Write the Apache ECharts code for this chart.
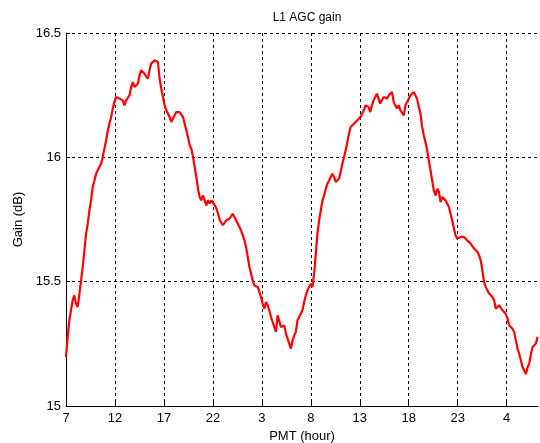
<!DOCTYPE html>
<html><head><meta charset="utf-8">
<script src="https://cdn.jsdelivr.net/npm/echarts@6/dist/echarts.min.js"></script>
<style>html,body{margin:0;padding:0;background:#fff}#c{width:540px;height:443px}</style>
</head><body><div id="c"></div>
<script>
const hourTickLabels = ['7','12','17','22','3','8','13','18','23','4'];
const hours = [
0.00,0.17,0.34,0.51,0.68,0.85,1.02,1.19,1.37,1.54,1.71,1.88,2.05,2.22,2.39,2.56,2.73,2.90,3.07,3.24,3.41,3.58,3.75,3.92,4.10,4.27,4.44,4.61,4.78,4.95,
5.12,5.29,5.46,5.63,5.80,5.97,6.14,6.31,6.48,6.66,6.83,7.00,7.17,7.34,7.51,7.68,7.85,8.02,8.19,8.36,8.53,8.70,8.87,9.04,9.22,9.39,9.56,9.73,9.90,10.07,
10.24,10.41,10.58,10.75,10.92,11.09,11.26,11.43,11.60,11.77,11.95,12.12,12.29,12.46,12.63,12.80,12.97,13.14,13.31,13.48,13.65,13.82,13.99,14.16,14.33,14.51,14.68,14.85,15.02,15.19,
15.36,15.53,15.70,15.85,16.02,16.19,16.36,16.53,16.69,16.86,17.03,17.20,17.37,17.54,17.71,17.88,18.05,18.22,18.39,18.56,18.73,18.90,19.07,19.24,19.41,19.58,19.75,19.92,20.08,20.25,
20.42,20.59,20.76,20.93,21.10,21.27,21.44,21.61,21.78,21.95,22.12,22.29,22.46,22.63,22.80,22.97,23.14,23.31,23.47,23.64,23.81,23.98,24.15,24.32,24.49,24.66,24.83,25.00,25.17,25.34,
25.51,25.68,25.85,26.02,26.19,26.36,26.53,26.69,26.86,27.03,27.20,27.37,27.54,27.71,27.88,28.05,28.22,28.39,28.56,28.73,28.90,29.07,29.24,29.41,29.58,29.75,29.92,30.08,30.25,30.42,
30.59,30.76,30.90,31.07,31.24,31.41,31.58,31.75,31.92,32.09,32.26,32.44,32.61,32.78,32.95,33.12,33.29,33.46,33.63,33.80,33.97,34.15,34.32,34.49,34.66,34.83,35.00,35.17,35.34,35.51,
35.68,35.85,36.03,36.20,36.37,36.54,36.71,36.88,37.05,37.22,37.39,37.56,37.74,37.91,38.08,38.25,38.42,38.59,38.76,38.93,39.10,39.27,39.44,39.62,39.79,39.96,40.13,40.30,40.47,40.64,
40.81,40.98,41.15,41.32,41.50,41.67,41.84,42.01,42.18,42.35,42.52,42.69,42.86,43.03,43.21,43.38,43.55,43.72,43.89,44.06,44.23,44.40,44.57,44.74,44.91,45.09,45.26,45.43,45.60,45.77,
45.94,46.11,46.28,46.45,46.62,46.79,46.97,47.14,47.31,47.48,47.65,47.82,47.99,48.16
];
const gainDb = [
15.197,15.277,15.344,15.385,15.425,15.445,15.41,15.398,15.45,15.505,15.559,15.626,15.693,15.733,15.787,15.827,15.881,15.907,15.934,15.948,15.961,15.974,16.001,16.035,16.068,16.109,16.135,16.162,16.196,16.223,
16.243,16.249,16.236,16.243,16.229,16.209,16.229,16.236,16.249,16.283,16.303,16.283,16.276,16.296,16.33,16.35,16.35,16.336,16.336,16.316,16.35,16.377,16.37,16.39,16.397,16.383,16.316,16.276,16.243,16.209,
16.189,16.176,16.162,16.142,16.149,16.169,16.182,16.189,16.182,16.189,16.162,16.135,16.109,16.082,16.048,16.035,16.001,15.961,15.921,15.874,15.84,15.827,15.847,15.84,15.807,15.827,15.814,15.827,15.82,15.807,
15.794,15.773,15.747,15.747,15.727,15.72,15.747,15.747,15.753,15.76,15.773,15.76,15.747,15.74,15.72,15.706,15.686,15.666,15.639,15.599,15.559,15.532,15.505,15.485,15.479,15.479,15.472,15.438,15.412,15.391,
15.418,15.405,15.385,15.358,15.351,15.318,15.298,15.365,15.358,15.318,15.311,15.324,15.291,15.271,15.251,15.231,15.264,15.284,15.298,15.344,15.358,15.365,15.385,15.418,15.445,15.465,15.479,15.492,15.479,15.532,
15.613,15.693,15.747,15.787,15.827,15.847,15.874,15.894,15.907,15.921,15.934,15.921,15.901,15.894,15.914,15.941,15.974,16.001,16.028,16.062,16.095,16.122,16.129,16.135,16.142,16.149,16.149,16.162,16.169,16.189,
16.209,16.216,16.202,16.182,16.209,16.229,16.243,16.256,16.249,16.216,16.223,16.243,16.249,16.236,16.249,16.243,16.263,16.223,16.209,16.196,16.209,16.189,16.189,16.169,16.209,16.223,16.229,16.249,16.249,16.263,
16.256,16.236,16.202,16.176,16.122,16.088,16.062,16.028,15.988,15.948,15.907,15.867,15.847,15.874,15.861,15.82,15.84,15.834,15.827,15.82,15.8,15.773,15.747,15.713,15.686,15.673,15.673,15.68,15.686,15.68,
15.68,15.666,15.666,15.653,15.646,15.633,15.626,15.62,15.606,15.586,15.546,15.499,15.479,15.465,15.452,15.458,15.438,15.425,15.391,15.398,15.405,15.398,15.385,15.385,15.371,15.351,15.324,15.318,15.311,15.298,
15.264,15.231,15.21,15.184,15.157,15.143,15.129,15.157,15.17,15.21,15.237,15.237,15.251,15.278
];
const yTicks = [15, 15.5, 16, 16.5];

const data = hours.map((h, i) => [h, gainDb[i]]);
const font = 'Liberation Sans, Arial, sans-serif';
const chart = echarts.init(document.getElementById('c'), null, {renderer: 'canvas'});
chart.setOption({
  animation: false,
  backgroundColor: '#fff',
  title: {
    text: 'L1 AGC gain', left: 302, top: 7, textAlign: 'center',
    textStyle: {fontFamily: font, fontSize: 12, fontWeight: 'normal', color: '#000'}
  },
  grid: {left: 66, right: 2, top: 33, bottom: 37, show: false, containLabel: false, outerBoundsMode: 'none'},
  xAxis: {
    type: 'value', min: 0, max: 48.2, interval: 5,
    name: 'PMT (hour)', nameLocation: 'middle', nameGap: 23,
    nameTextStyle: {fontFamily: font, fontSize: 13, color: '#000'},
    axisLine: {lineStyle: {color: '#000'}},
    axisTick: {inside: true, length: 4, lineStyle: {color: '#000'}},
    axisLabel: {
      fontFamily: font, fontSize: 13, color: '#000', margin: 6, showMaxLabel: false,
      formatter: v => { const k = Math.round(v / 5); return (Math.abs(v - k * 5) < 1e-6 && k < hourTickLabels.length) ? hourTickLabels[k] : ''; }
    },
    splitLine: {show: true, showMinLine: false, showMaxLine: false, lineStyle: {color: '#000', type: [3, 3], width: 1}}
  },
  yAxis: {
    type: 'value', min: yTicks[0], max: yTicks[yTicks.length - 1], interval: 0.5,
    name: 'Gain (dB)', nameLocation: 'middle', nameGap: 40, nameRotate: 90,
    nameTextStyle: {fontFamily: font, fontSize: 13, color: '#000'},
    axisLine: {lineStyle: {color: '#000'}},
    axisTick: {inside: true, length: 4, lineStyle: {color: '#000'}},
    axisLabel: {fontFamily: font, fontSize: 13, color: '#000', margin: 5},
    splitLine: {show: true, showMinLine: false, showMaxLine: true, lineStyle: {color: '#000', type: [3, 3], width: 1}}
  },
  series: [{
    type: 'line', data: data, showSymbol: false, symbol: 'none',
    lineStyle: {color: '#ff0000', width: 2.2}, z: 5
  }]
});
</script></body></html>
